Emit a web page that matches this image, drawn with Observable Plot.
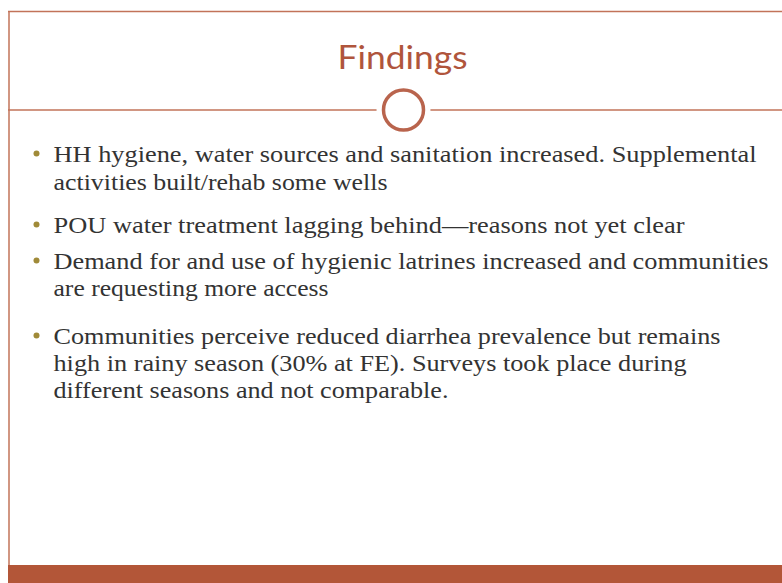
<!DOCTYPE html>
<html>
<head>
<meta charset="utf-8">
<script src="https://cdn.jsdelivr.net/npm/d3@7"></script>
<script src="https://cdn.jsdelivr.net/npm/@observablehq/plot@0.6"></script>
<style>
html,body{margin:0;padding:0;background:#fff;overflow:hidden}
</style>
</head>
<body>
<div id="chart"></div>
<script>
const title = ["Findings"];
const bulletIds = [1, 1, 2, 3, 3, 4, 4, 4];
const lineTexts = [
  "HH hygiene, water sources and sanitation increased. Supplemental",
  "activities built/rehab some wells",
  "POU water treatment lagging behind\u2014reasons not yet clear",
  "Demand for and use of hygienic latrines increased and communities",
  "are requesting more access",
  "Communities perceive reduced diarrhea prevalence but remains",
  "high in rainy season (30% at FE). Surveys took place during",
  "different seasons and not comparable."
];

// layout (pixels)
const W = 782, H = 583;
const baselines = [161, 189, 232, 268, 295, 343, 370, 397];
const lineWidths = [703, 334, 631, 715, 275, 667, 633, 395];

const rows = lineTexts.map((t, i) => ({text: t, y: baselines[i], first: i === 0 || bulletIds[i-1] !== bulletIds[i]}));
const firsts = rows.filter(d => d.first);

const accent = "#b35638";
const line = "#c27359";
const plot = Plot.plot({
  width: W, height: H,
  margin: 0,
  x: {domain: [0, W], axis: null},
  y: {domain: [0, H], axis: null, reverse: true},
  style: {background: "#fff"},
  marks: [
    Plot.rect([0], {x1: 8, x2: W, y1: 565, y2: H, fill: accent}),
    Plot.ruleY([11], {x1: 8, x2: W, stroke: line, strokeWidth: 1.5}),
    Plot.ruleX([8.5], {y1: 11, y2: 565, stroke: line, strokeWidth: 1.5}),
    Plot.ruleY([109.5], {x1: 8, x2: W, stroke: line, strokeWidth: 1.5}),
    Plot.dot([0], {x: 403, y: 109.5, r: 27, fill: "#fff", stroke: "none"}),
    Plot.dot([0], {x: 403, y: 109.5, r: 20, fill: "none", stroke: "#b9644d", strokeWidth: 3.5}),
    Plot.text(title, {x: 402, y: 68, text: d => d, fill: "#b0553c", fontSize: 32, fontFamily: "Lato", textAnchor: "middle", lineAnchor: "bottom", className: "ttl"}),
    Plot.dot(firsts, {x: 36, y: d => d.y - 8, r: 3, fill: "#a08a38"}),
    Plot.text(rows, {x: 53, y: "y", text: "text", fill: "#333", fontSize: 23.5, fontFamily: "Liberation Serif", textAnchor: "start", lineAnchor: "bottom", className: "lines"})
  ]
});
document.getElementById("chart").append(plot);
d3.select(plot).selectAll("g.lines text").each(function(d, k) {
  const i = (typeof this.__data__ === "number") ? this.__data__ : k;
  this.setAttribute("textLength", lineWidths[i]);
  this.setAttribute("lengthAdjust", "spacingAndGlyphs");
});
d3.select(plot).selectAll("g.ttl text").each(function() {
  this.setAttribute("textLength", 130);
  this.setAttribute("lengthAdjust", "spacingAndGlyphs");
});
</script>
</body>
</html>
